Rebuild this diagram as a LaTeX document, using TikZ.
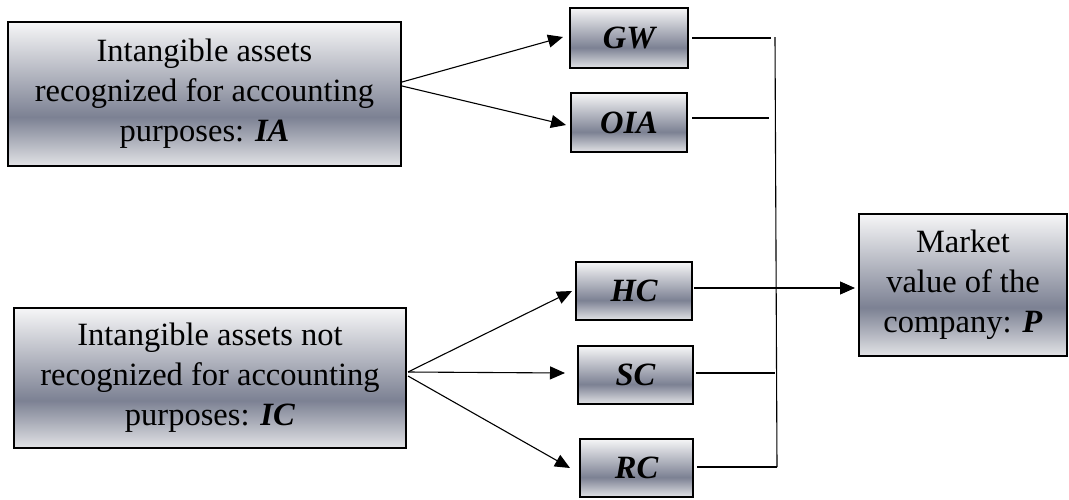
\documentclass[tikz,border=0pt]{standalone}
\usepackage{fontspec}
\setmainfont{Liberation Serif}
\usetikzlibrary{arrows.meta}

% light at top and bottom, a dark steel band a little below the middle
\definecolor{shadetop}{RGB}{246,246,247}
\definecolor{shadedark}{RGB}{124,129,147}
\definecolor{shadebottom}{RGB}{226,227,230}
\pgfdeclareverticalshading{steelband}{100bp}{%
  color(0bp)=(shadebottom); color(25bp)=(shadebottom);
  color(42bp)=(shadedark);
  color(75bp)=(shadetop); color(100bp)=(shadetop)}

\tikzset{
  box/.style={draw=black, line width=2pt, shading=steelband, align=center,
    inner sep=0pt, font=\fontsize{32.5}{40}\selectfont},
  smallbox/.style={box, font=\fontsize{32.5}{40}\selectfont\bfseries\itshape},
  link/.style={draw=black, line width=1.1pt},
  arr/.style={link, -{Triangle[length=15pt,width=13pt]}},
}

\begin{document}
\begin{tikzpicture}[x=1pt, y=-1pt]
\useasboundingbox (0,0) rectangle (1069,499);

% source boxes
\node[box, minimum width=393pt, minimum height=144pt] (ia) at (204.5,94)
  {Intangible assets\\recognized for accounting\\purposes: \textbf{\textit{IA}}};
\node[box, minimum width=392pt, minimum height=140pt] (ic) at (210,378)
  {Intangible assets not\\recognized for accounting\\purposes: \textbf{\textit{IC}}};

% components
\node[smallbox, minimum width=118pt, minimum height=60pt] (gw)  at (629,38)    {GW};
\node[smallbox, minimum width=116pt, minimum height=59pt] (oia) at (629,122.5) {OIA};
\node[smallbox, minimum width=116pt, minimum height=58pt] (hc)  at (634,291)   {HC};
\node[smallbox, minimum width=115pt, minimum height=58pt] (sc)  at (635.5,375) {SC};
\node[smallbox, minimum width=113pt, minimum height=58pt] (rc)  at (636.5,468) {RC};

% result
\node[box, minimum width=208pt, minimum height=142pt] (p) at (963,285)
  {Market\\value of the\\company: \textbf{\textit{P}}};

% where the arrows leave the source boxes
\coordinate (iaup) at (402,82);
\coordinate (iadn) at (402,86);
\coordinate (icmid) at (408,372);
\coordinate (icdn) at (408,376);

% collecting bus
\coordinate (bustop) at (775,37);
\coordinate (busbot) at (777,467);
\coordinate (gwend)  at (771,38);
\coordinate (oiaend) at (769,118);
\coordinate (scend)  at (775,373);
\coordinate (hcout)  at (694,288);

% split arrows (shifts below are on the page, so positive yshift is upward)
\draw[arr] (iaup) -- ([xshift=-6pt,yshift=1pt]gw.west);
\draw[arr] (iadn) -- ([xshift=-4pt,yshift=-2.5pt]oia.west);
\draw[arr] (icmid) -- ([xshift=-3pt]hc.west);
\draw[arr] (icmid) -- ([xshift=-12pt,yshift=2pt]sc.west);
\draw[arr] (icdn) -- ([xshift=-9pt]rc.west);

% lines into the bus
\draw[link] ([xshift=3pt]gw.east |- gwend) -- (gwend);
\draw[link] ([xshift=4pt]oia.east |- oiaend) -- (oiaend);
\draw[link] ([xshift=2pt]sc.east |- scend) -- (scend);
\draw[link] ([xshift=3pt]rc.east |- busbot) -- (busbot);
\draw[link] (bustop) -- (busbot);

% bus to the market value
\draw[arr] (hcout) -- ([xshift=-3pt]p.west |- hcout);
\end{tikzpicture}
\end{document}
